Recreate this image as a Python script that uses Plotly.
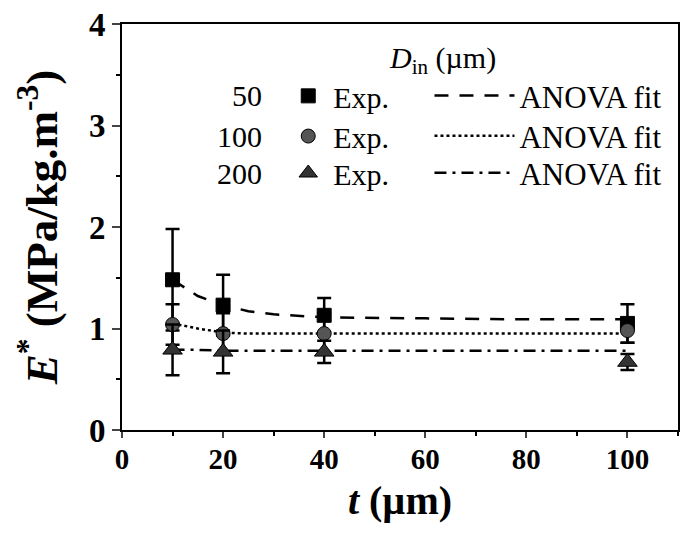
import plotly.graph_objects as go

t_exp = [10, 20, 40, 100]
e50 = [1.48, 1.23, 1.13, 1.05]
e50_err = [0.5, 0.3, 0.17, 0.19]
e100 = [1.04, 0.95, 0.95, 0.98]
e100_err = [0.2, 0.2, 0.2, 0.12]
e200 = [0.79, 0.77, 0.77, 0.67]
e200_err = [0.25, 0.21, 0.11, 0.08]

t_fit = [10, 15, 20, 25, 30, 40, 60, 80, 100]
fit50 = [1.48, 1.32, 1.23, 1.17, 1.14, 1.11, 1.10, 1.09, 1.09]
fit100 = [1.05, 1.00, 0.96, 0.95, 0.95, 0.95, 0.95, 0.95, 0.95]
fit200 = [0.79, 0.79, 0.78, 0.78, 0.78, 0.78, 0.78, 0.78, 0.78]

d_labels = ["50", "100", "200"]
x_ticks = [0, 20, 40, 60, 80, 100]
y_ticks = [0, 1, 2, 3, 4]

FONT = "Liberation Serif"
row_y = [0.823, 0.724, 0.633]  # legend row centres (paper)

fig = go.Figure()

fit_styles = [(fit50, "14px,11px"), (fit100, "dot"), (fit200, "12px,6px,3px,6px")]
for i, (vals, dash) in enumerate(fit_styles):
    fig.add_trace(go.Scatter(
        x=t_fit, y=vals, mode="lines", name="ANOVA fit",
        line=dict(color="black", width=2.5, dash=dash),
        legend=f"legend{4 + i}", showlegend=True,
    ))

exp_styles = [
    (e50, e50_err, "square", "black", 14),
    (e100, e100_err, "circle", "#555555", 14),
    (e200, e200_err, "triangle-up", "#333333", 17),
]
for i, (vals, err, sym, col, sz) in enumerate(exp_styles):
    fig.add_trace(go.Scatter(
        x=t_exp, y=vals, mode="markers", name="Exp.",
        marker=dict(symbol=sym, color=col, size=sz, line=dict(color="black", width=1)),
        error_y=dict(type="data", array=err, visible=True, color="black", thickness=2.5, width=7),
        legend=f"legend{1 + i}" if i > 0 else "legend7", showlegend=True,
    ))

annotations = [
    dict(x=63.5, y=3.65, xref="x", yref="y", text="<i>D</i><sub>in</sub> (µm)",
         showarrow=False, font=dict(family=FONT, size=30, color="black")),
]
for lbl, yy in zip(d_labels, row_y):
    annotations.append(dict(x=28.0, y=yy, xref="x", yref="paper", text=lbl, xanchor="right",
                            yanchor="middle", showarrow=False,
                            font=dict(family=FONT, size=30, color="black")))

legends = {}
for i, yy in enumerate(row_y):
    key = "legend7" if i == 0 else f"legend{1 + i}"
    legends[key] = dict(x=0.29, y=yy, xanchor="left", yanchor="middle",
                        font=dict(family=FONT, size=30, color="black"),
                        bgcolor="rgba(0,0,0,0)", itemwidth=40)
    legends[f"legend{4 + i}"] = dict(x=0.553, y=yy, xanchor="left", yanchor="middle",
                                     font=dict(family=FONT, size=31, color="black"),
                                     bgcolor="rgba(0,0,0,0)", itemwidth=80)

fig.update_layout(
    width=685, height=540,
    margin=dict(l=122, r=7, t=24, b=110),
    paper_bgcolor="white", plot_bgcolor="white",
    font=dict(family=FONT, color="black"),
    annotations=annotations,
    showlegend=True,
    **legends,
)

fig.update_xaxes(
    range=[0, 110], tickvals=x_ticks, ticks="outside", ticklen=6, tickwidth=2,
    minor=dict(dtick=10, ticks="outside", ticklen=4, tickwidth=1.5, tickcolor="black"),
    showline=True, linecolor="black", linewidth=2, mirror=True, showgrid=False, zeroline=False,
    automargin=False, ticklabelstandoff=-4,
    tickfont=dict(family=FONT, size=29, weight="bold"),
    title=dict(text="<b><i>t</i> (µm)</b>", font=dict(family=FONT, size=40), standoff=12),
)
fig.update_yaxes(
    range=[0, 4], tickvals=y_ticks, ticks="outside", ticklen=8, tickwidth=2,
    minor=dict(dtick=0.5, ticks="outside", ticklen=4, tickwidth=1.5, tickcolor="black"),
    showline=True, linecolor="black", linewidth=2, mirror=True, showgrid=False, zeroline=False,
    automargin=False,
    tickfont=dict(family=FONT, size=33, weight="bold"),
    title=dict(text="<b><i>E</i><sup>*</sup> (MPa/kg.m<sup>-3</sup>)</b>", font=dict(family=FONT, size=45), standoff=17),
)

fig.write_html("out.html", config={"displayModeBar": False},
               post_script="document.body.style.margin='0';document.body.style.overflow='hidden';")
